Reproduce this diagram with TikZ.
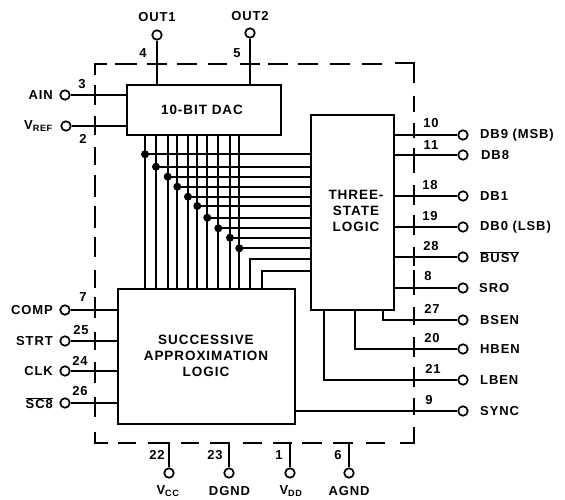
\documentclass[tikz,border=0pt]{standalone}
\usepackage{fontspec}
\setmainfont{Liberation Sans}[LetterSpace=7]
\newcommand{\ovl}[1]{$\overline{\mbox{#1}}$}
\tikzset{
  x=1pt,y=-1pt,
  wire/.style={line width=1.9pt,line cap=butt,line join=miter},
  box/.style={line width=2pt,draw=black},
  pad/.style={circle,draw=black,line width=1.7pt,fill=white,minimum size=9.5pt,inner sep=0pt},
  bound/.style={line width=1.8pt},
  lab/.style={font=\bfseries\fontsize{13}{15}\selectfont,inner sep=0pt,text=black},
  num/.style={font=\bfseries\fontsize{13}{15}\selectfont,inner sep=0pt,text=black},
  title/.style={font=\fontsize{13.5}{15.8}\selectfont\bfseries,inner sep=0pt,align=center},
  dot/.style={circle,fill=black,minimum size=8pt,inner sep=0pt}
}
\begin{document}
\begin{tikzpicture}
\useasboundingbox (0,0) rectangle (565,500);
% package boundary
\draw[bound] (95,75) -- (95,64) -- (107,64);
\foreach \a/\b in {115/137,147/167,177/197,208/227,240/260,268/288,298/318,330/350,362/382}
  \draw[bound] (\a,64) -- (\b,64);
\draw[bound] (395,63) -- (414,63) -- (414,83);
\foreach \a/\b in {96/112,123/138,148/173,185/205,215/235,247/266,270/295,307/325,337/357,367/387,398/415}
  \draw[bound] (414,\a) -- (414,\b);
\foreach \a/\b in {85/105,116/135,147/165,175/197,206/228,237/257,270/288,297/318,332/350,362/383,397/417}
  \draw[bound] (95,\a) -- (95,\b);
\draw[bound] (95,432) -- (95,443) -- (108,443);
\foreach \a/\b in {118/136,148/170,181/199,210/230,243/262,273/292,302/322,333/353,366/385}
  \draw[bound] (\a,443) -- (\b,443);
\draw[bound] (400,443) -- (414,443) -- (414,427);
% blocks
\node[box,minimum width=154pt,minimum height=50pt,inner sep=0pt,anchor=north west] (dac) at (126,84.5) {};
\node[box,minimum width=83pt,minimum height=195pt,inner sep=0pt,anchor=north west] (tsl) at (310,114) {};
\node[box,minimum width=177pt,minimum height=135pt,inner sep=0pt,anchor=north west] (sar) at (117,288) {};
\node[title] (dactxt) at (202,110) {10-BIT DAC};
\node[title] (tsltxt) at (356,211) {THREE-\\STATE\\LOGIC};
\node[title] (sartxt) at (206,356) {SUCCESSIVE\\APPROXIMATION\\LOGIC};
% bus
\foreach \n/\px/\py in {a/145/154.3,b/156/166.7,c/167.7/176.7,d/177.3/186.7,e/188/196.7,f/197.3/206,g/207.3/217.7,h/218.3/228.3,i/230/237.7,j/239.3/248.3}{
  \coordinate (top\n) at (\px,134);
  \coordinate (bot\n) at (\px,288);
  \coordinate (rgt\n) at (310,\py);
  \draw[wire] (top\n) -- (bot\n);
  \node[dot] (dot\n) at (\px,\py) {};
  \draw[wire] (dot\n.center) -- (rgt\n);
}
\coordinate (bk) at (250,288); \coordinate (bl) at (261.7,288);
\coordinate (rk) at (310,259); \coordinate (rl) at (310,270.7);
\draw[wire] (bk) |- (rk);
\draw[wire] (bl) |- (rl);
% left pins
\foreach \n/\ny/\cx/\tgt/\txt/\numt/\nx/\nyy in {
  ain/95/65/126/AIN/3/82/84,
  vref/126/66/126/{V\textsubscript{REF}}/2/83/139,
  comp/310/65/117/COMP/7/83/297,
  strt/341/65/117/STRT/25/81/330,
  clk/371/65/117/CLK/24/80/361,
  sceight/403/65/117/{\ovl{SC8}}/26/80/391}{
  \node[pad] (p\n) at (\cx,\ny) {};
  \coordinate (e\n) at (\tgt,\ny);
  \draw[wire] (p\n) -- (e\n);
  \node[lab,anchor=east] (l\n) at (53,\ny) {\txt};
  \node[num] (k\n) at (\nx,\nyy) {\numt};
}
% top pins
\node[pad] (pout1) at (157,35) {};
\node[pad] (pout2) at (250,33) {};
\coordinate (eout1) at (157,84); \coordinate (eout2) at (250,84);
\draw[wire] (pout1) -- (eout1);
\draw[wire] (pout2) -- (eout2);
\node[lab] (lout1) at (157,17) {OUT1};
\node[lab] (lout2) at (250,16) {OUT2};
\node[num] (kout1) at (143,53) {4};
\node[num] (kout2) at (237,53) {5};
% right pins
\foreach \n/\ny/\sx/\txt/\lx/\numt/\nx/\nyy in {
  dbn/135/393/{DB9 (MSB)}/480/10/431/123,
  dbe/155/393/DB8/481/11/431/145,
  dbo/196/393/DB1/480/18/430/185,
  dbz/227/393/{DB0 (LSB)}/480/19/430/216,
  busy/257/393/{\ovl{BUSY}}/480/28/431/246,
  sro/288/393/SRO/479/8/428/276,
  sync/411/294/SYNC/480/9/429/400}{
  \node[pad] (p\n) at (463,\ny) {};
  \coordinate (e\n) at (\sx,\ny);
  \draw[wire] (p\n) -- (e\n);
  \node[lab,anchor=west] (l\n) at (\lx,\ny) {\txt};
  \node[num] (k\n) at (\nx,\nyy) {\numt};
}
\foreach \n/\ny/\sx/\txt/\numt/\nx/\nyy in {
  bsen/320/383/BSEN/27/432/309,
  hben/349/355/HBEN/20/432/338,
  lben/380/324/LBEN/21/433/369}{
  \node[pad] (p\n) at (463,\ny) {};
  \coordinate (e\n) at (\sx,309);
  \draw[wire] (p\n) -| (e\n);
  \node[lab,anchor=west] (l\n) at (480,\ny) {\txt};
  \node[num] (k\n) at (\nx,\nyy) {\numt};
}
% bottom pins
\foreach \n/\px/\txt/\lx/\numt/\nx in {
  vcc/169/{V\textsubscript{CC}}/168/22/157,
  dgnd/229/DGND/229.5/23/215,
  vdd/290/{V\textsubscript{DD}}/291/1/279,
  agnd/349/AGND/349/6/338}{
  \node[pad] (p\n) at (\px,473) {};
  \coordinate (e\n) at (\px,443);
  \draw[wire] (p\n) -- (e\n);
  \node[lab] (l\n) at (\lx,491) {\txt};
  \node[num] (k\n) at (\nx,455) {\numt};
}
\end{tikzpicture}
\end{document}
